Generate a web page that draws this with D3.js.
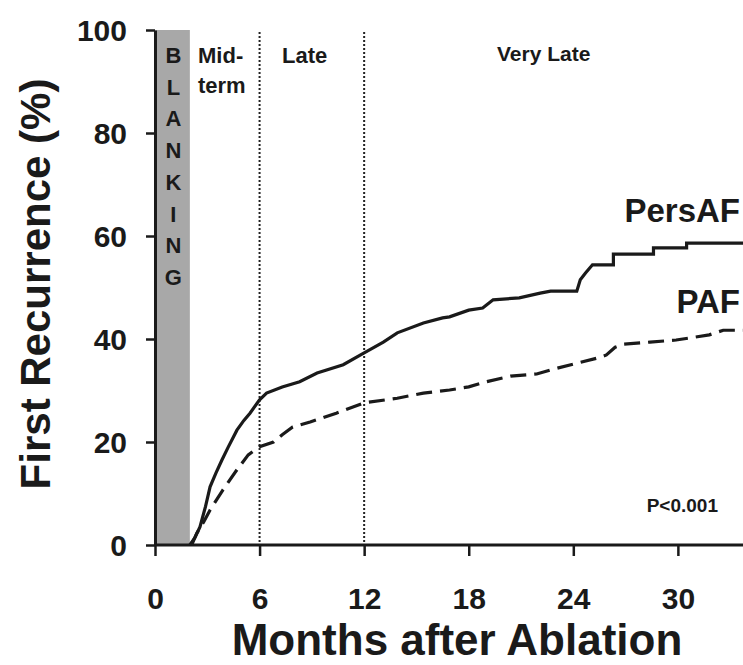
<!DOCTYPE html>
<html><head><meta charset="utf-8">
<script src="https://cdn.jsdelivr.net/npm/d3@7"></script>
<style>
html,body{margin:0;padding:0;background:#fff;}
text{font-family:"Liberation Sans",Arial,sans-serif;font-weight:bold;fill:#1a1a1a;}
</style></head>
<body><svg id="c" width="743" height="665"></svg>
<script>
const xTicks = [0, 6, 12, 18, 24, 30];
const yTicks = [0, 20, 40, 60, 80, 100];
const periodLines = [6, 12];
const blanking = [0, 2];
const blankingLetters = ["B","L","A","N","K","I","N","G"];
const persMonths = [2.0,2.3,2.58,2.9,3.16,3.5,3.84,4.2,4.7,5.1,5.45,6.0,6.4,7.3,8.3,9.3,10.8,12.0,13.1,13.9,15.4,16.5,16.9,18.0,18.8,19.4,20.9,22.1,22.7,24.2,24.4,24.7,25.1,26.3,26.3,28.6,28.6,30.5,30.5,34];
const persValues = [0,1.5,3.5,7.5,11.3,14,16.5,19,22.3,24.2,25.6,28.2,29.5,30.7,31.7,33.4,35,37.3,39.4,41.2,43.1,44.1,44.3,45.6,46,47.6,48,48.9,49.3,49.3,51.5,52.8,54.4,54.4,56.5,56.5,57.7,57.7,58.6,58.6];
const pafMonths = [2.1,2.4,2.8,3.16,3.9,4.7,5.35,6.0,6.8,7.3,7.9,8.9,10.4,12.0,13.9,15.4,16.9,18.0,19.0,20.4,21.9,22.7,24.2,25.4,25.9,26.4,26.9,28.4,29.9,31.8,32.6,34];
const pafValues = [0,2.3,4.5,6.8,10.7,14.6,17.5,19.1,20,21.4,22.9,23.9,25.6,27.6,28.5,29.5,30.1,30.7,31.7,32.8,33.2,34,35.3,36.3,36.9,38.4,39,39.4,39.8,40.8,41.7,41.7];

const svg = d3.select("#c");
const x = d3.scaleLinear().domain([0, 34]).range([155, 747.6]);
const y = d3.scaleLinear().domain([0, 100]).range([545, 30]);
const ink = "#1a1a1a";

// blanking bar
svg.append("rect").attr("x", x(blanking[0])).attr("y", y(100))
  .attr("width", x(blanking[1]) - x(blanking[0])).attr("height", y(0) - y(100))
  .attr("fill", "#a8a8a8");

// period dotted lines
svg.selectAll("line.period").data(periodLines).enter().append("line")
  .attr("x1", d => x(d)).attr("x2", d => x(d))
  .attr("y1", y(100) + 2).attr("y2", y(0))
  .attr("stroke", "#222").attr("stroke-width", 2).attr("stroke-dasharray", "2,2");

// axes
const xAxis = svg.append("g").attr("transform", `translate(0,${y(0)})`)
  .call(d3.axisBottom(x).tickValues(xTicks).tickSize(11).tickSizeOuter(0).tickPadding(32));
const yAxis = svg.append("g").attr("transform", `translate(${x(0)},0)`)
  .call(d3.axisLeft(y).tickValues(yTicks).tickSize(9).tickSizeOuter(0).tickPadding(19));
[xAxis, yAxis].forEach(g => {
  g.select(".domain").attr("stroke", ink).attr("stroke-width", 3);
  g.selectAll(".tick line").attr("stroke", ink).attr("stroke-width", 2.5);
  g.selectAll(".tick text").attr("font-size", 30).attr("font-family", "Liberation Sans, Arial, sans-serif")
    .attr("font-weight", "bold").attr("fill", ink);
});
xAxis.select(".domain").attr("d", `M${x(0)},0H743`);
yAxis.selectAll(".tick text").attr("dy", "0.36em");

// curves
const line = d3.line().x(d => x(d[0])).y(d => y(d[1]));
svg.append("path").datum(persMonths.map((m, i) => [m, persValues[i]]))
  .attr("d", line).attr("fill", "none").attr("stroke", ink).attr("stroke-width", 3.2);
svg.append("path").datum(pafMonths.map((m, i) => [m, pafValues[i]]))
  .attr("d", line).attr("fill", "none").attr("stroke", ink).attr("stroke-width", 3.2)
  .attr("stroke-dasharray", "16,8");

// blanking letters
svg.selectAll("text.bl").data(blankingLetters).enter().append("text")
  .attr("x", (x(blanking[0]) + x(blanking[1])) / 2 + 1)
  .attr("y", (d, i) => 63 + i * 31.7)
  .attr("text-anchor", "middle").attr("font-size", 22).text(d => d);

// period labels
svg.append("text").attr("x", 198).attr("y", 63).attr("font-size", 22).text("Mid-");
svg.append("text").attr("x", 198).attr("y", 93).attr("font-size", 22).text("term");
svg.append("text").attr("x", 282).attr("y", 63).attr("font-size", 22).text("Late");
svg.append("text").attr("x", 497).attr("y", 61).attr("font-size", 21).text("Very Late");

// series labels
svg.append("text").attr("x", 740).attr("y", 222).attr("text-anchor", "end").attr("font-size", 33).text("PersAF");
svg.append("text").attr("x", 740).attr("y", 313).attr("text-anchor", "end").attr("font-size", 33).text("PAF");
svg.append("text").attr("x", 718).attr("y", 512).attr("text-anchor", "end").attr("font-size", 19).text("P<0.001");

// axis titles
svg.append("text").attr("x", 457).attr("y", 655).attr("text-anchor", "middle").attr("font-size", 44)
  .text("Months after Ablation");
svg.append("text").attr("transform", "translate(50,284) rotate(-90)").attr("text-anchor", "middle")
  .attr("font-size", 42).text("First Recurrence (%)");
</script></body></html>
